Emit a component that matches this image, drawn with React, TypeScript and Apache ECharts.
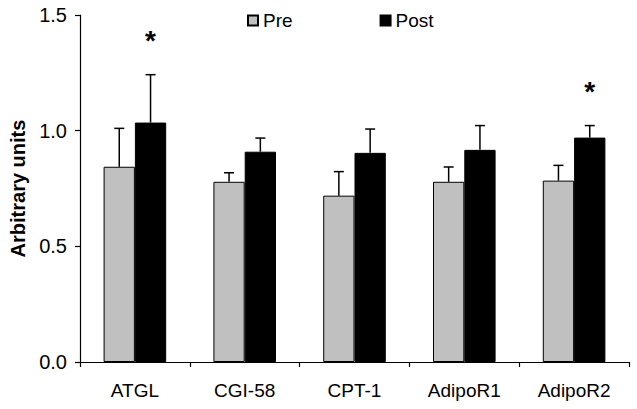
import React, { useEffect, useRef } from "react";
import * as echarts from "echarts";

const categories = ["ATGL", "CGI-58", "CPT-1", "AdipoR1", "AdipoR2"];
const preValues = [0.844, 0.779, 0.719, 0.779, 0.784];
const preErrors = [0.166, 0.039, 0.104, 0.064, 0.066];
const postValues = [1.035, 0.909, 0.904, 0.917, 0.970];
const postErrors = [0.207, 0.059, 0.103, 0.105, 0.052];
const postStars = [true, false, false, false, true];
const yTicks = [0, 0.5, 1.0, 1.5];

const FONT = "Liberation Sans, Arial, sans-serif";

export default function App() {
  const ref = useRef<HTMLDivElement>(null);
  useEffect(() => {
    if (!ref.current) return;
    const chart = echarts.init(ref.current, null, { renderer: "svg" });
    const errData: any[] = [];
    categories.forEach((_, i) => {
      errData.push([i, preValues[i], preErrors[i], 0, 0]);
      errData.push([i, postValues[i], postErrors[i], 1, postStars[i] ? 1 : 0]);
    });
    const gapFrac = 0.43;
    chart.setOption({
      animation: false,
      textStyle: { fontFamily: FONT },
      grid: { left: 78, right: 8, top: 15, bottom: 47 },
      legend: {
        left: 242,
        top: 6,
        itemWidth: 10,
        itemHeight: 10,
        itemGap: 87,
        icon: "rect",
        textStyle: { fontSize: 19, color: "#000", fontFamily: FONT },
        data: ["Pre", "Post"],
      },
      xAxis: {
        type: "category",
        data: categories,
        boundaryGap: true,
        axisLine: { lineStyle: { color: "#000", width: 1.2 } },
        axisTick: { show: true, length: 5, lineStyle: { color: "#000", width: 1.2 } },
        axisLabel: { fontSize: 19, color: "#000", margin: 19, fontFamily: FONT },
      },
      yAxis: {
        type: "value",
        min: yTicks[0],
        max: yTicks[yTicks.length - 1],
        interval: 0.5,
        name: "Arbitrary units",
        nameLocation: "middle",
        nameGap: 52,
        nameTextStyle: { fontSize: 20, fontWeight: "bold", color: "#000", fontFamily: FONT },
        splitLine: { show: false },
        axisLine: { show: true, lineStyle: { color: "#000", width: 1.2 } },
        axisTick: { show: true, length: 5, lineStyle: { color: "#000", width: 1.2 } },
        axisLabel: {
          fontSize: 20,
          color: "#000",
          margin: 13,
          fontFamily: FONT,
          formatter: (v: number) => v.toFixed(1),
        },
      },
      series: [
        {
          name: "Pre",
          type: "bar",
          data: preValues,
          barGap: "0%",
          barCategoryGap: "43%",
          itemStyle: { color: "#c0c0c0", borderColor: "#000", borderWidth: 1 },
        },
        {
          name: "Post",
          type: "bar",
          data: postValues,
          barGap: "0%",
          barCategoryGap: "43%",
          itemStyle: { color: "#000", borderColor: "#000", borderWidth: 1 },
        },
        {
          type: "custom",
          z: 10,
          data: errData,
          encode: { x: 0, y: 1 },
          renderItem: (params: any, api: any) => {
            const i = api.value(0);
            const v = api.value(1);
            const e = api.value(2);
            const s = api.value(3);
            const star = api.value(4);
            const band = api.size([1, 0])[0];
            const bw = (band * (1 - gapFrac)) / 2;
            const base = api.coord([i, v]);
            const top = api.coord([i, v + e]);
            const x = base[0] + (s === 0 ? -bw / 2 : bw / 2);
            const cap = 5;
            const children: any[] = [
              {
                type: "line",
                shape: { x1: x, y1: base[1], x2: x, y2: top[1] },
                style: { stroke: "#000", lineWidth: 1.5 },
              },
              {
                type: "line",
                shape: { x1: x - cap, y1: top[1], x2: x + cap, y2: top[1] },
                style: { stroke: "#000", lineWidth: 1.5 },
              },
            ];
            if (star) {
              children.push({
                type: "text",
                x: x,
                y: top[1] - 34,
                style: {
                  text: "*",
                  fontSize: 28,
                  fontWeight: "bold",
                  fontFamily: FONT,
                  fill: "#000",
                  textAlign: "center",
                  textVerticalAlign: "middle",
                },
              });
            }
            return { type: "group", children };
          },
        },
      ],
    });
    return () => chart.dispose();
  }, []);
  return (
    <div
      ref={ref}
      style={{ position: "fixed", left: 0, top: 0, width: 637, height: 409, background: "#fff" }}
    />
  );
}
